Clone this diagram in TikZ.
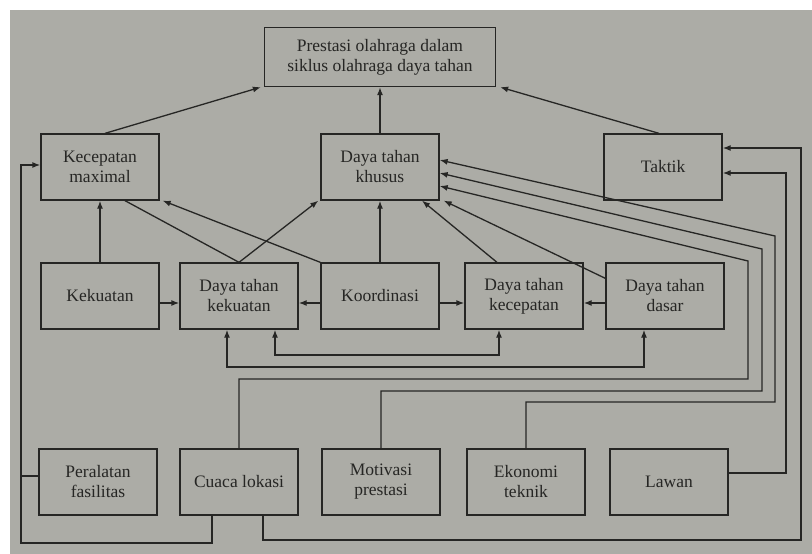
\documentclass[tikz,border=0pt]{standalone}
\usepackage{fontspec}
\setmainfont{Liberation Serif}
\usetikzlibrary{arrows.meta,positioning}
\definecolor{paper}{RGB}{172,172,166}
\definecolor{ink}{RGB}{38,38,36}

\begin{document}
\begin{tikzpicture}[x=1pt,y=-1pt,>=Latex,
factor box/.style={draw=ink,line width=1.3pt,minimum width=118pt,minimum height=66pt,inner sep=2pt,align=center,text=ink,font=\fontsize{17.5}{20}\selectfont},
flow/.style={-{Latex[length=8pt,width=6pt]},draw=ink,line width=1.3pt},
both flow/.style={{Latex[length=8pt,width=6pt]}-{Latex[length=8pt,width=6pt]},draw=ink,line width=1.3pt},
link/.style={draw=ink,line width=1.3pt}]
\useasboundingbox (0,0) rectangle (812,554);
\fill[white] (0,0) rectangle (812,554);
\fill[paper] (10,10) rectangle (812,554);
% goal
\node[factor box,minimum width=231pt,minimum height=59pt] (pres) at (380,57) {Prestasi olahraga dalam\\siklus olahraga daya tahan};
% upper row
\node[factor box] (kmax) at (100,167) {Kecepatan\\maximal};
\node[factor box] (khusus) at (380,167) {Daya tahan\\khusus};
\node[factor box] (taktik) at (663,167) {Taktik};
% middle row
\node[factor box] (kekuatan) at (100,296) {Kekuatan};
\node[factor box] (dtk) at (239,296) {Daya tahan\\kekuatan};
\node[factor box] (koord) at (380,296) {Koordinasi};
\node[factor box] (dtkc) at (524,296) {Daya tahan\\kecepatan};
\node[factor box] (dtd) at (665,296) {Daya tahan\\dasar};
% lower row
\node[factor box] (peralatan) at (98,482) {Peralatan\\fasilitas};
\node[factor box] (cuaca) at (239,482) {Cuaca lokasi};
\node[factor box] (motivasi) at (381,482) {Motivasi\\prestasi};
\node[factor box] (ekonomi) at (526,482) {Ekonomi\\teknik};
\node[factor box] (lawan) at (669,482) {Lawan};
% into the goal
\draw[flow] ([xshift=5pt]kmax.north) -- ([xshift=-3pt]pres.south west);
\draw[flow] (khusus) -- (pres);
\draw[flow] ([xshift=-4pt]taktik.north) -- ([xshift=4pt]pres.south east);
% middle row
\draw[flow] (kekuatan) -- (kmax);
\draw[flow] ([yshift=-7pt]kekuatan.east) -- ([yshift=-7pt]dtk.west);
\draw[flow] ([yshift=-7pt]koord.west) -- ([yshift=-7pt]dtk.east);
\draw[flow] ([yshift=-7pt]koord.east) -- ([yshift=-7pt]dtkc.west);
\draw[flow] ([yshift=-7pt]dtd.west) -- ([yshift=-7pt]dtkc.east);
\draw[flow] (koord) -- (khusus);
\draw[flow] (dtk.north) -- ([xshift=-2pt]khusus.south west);
\draw[link] ([xshift=25pt]kmax.south) -- (dtk.north);
\draw[flow] (koord.north west) -- ([xshift=3pt]kmax.south east);
\draw[flow] ([xshift=-27pt]dtkc.north) -- ([xshift=42pt]khusus.south);
\draw[flow] ([yshift=-16pt]dtd.north west) -- ([xshift=4pt]khusus.south east);
\draw[both flow] ([xshift=36pt]dtk.south) -- (275,355) -- (499,355) -- ([xshift=-25pt]dtkc.south);
\draw[both flow] ([xshift=-12pt]dtk.south) -- (227,367) -- (644,367) -- ([xshift=-21pt]dtd.south);
% lower row, routed
\draw[flow] (cuaca.north) |- (748,379) -- (748,261) -- ([yshift=-19pt]khusus.east);
\draw[flow] (motivasi.north) |- (762,391) -- (762,249) -- ([yshift=-6pt]khusus.east);
\draw[flow] (ekonomi.north) |- (775,402) -- (775,236) -- ([yshift=7pt]khusus.east);
\draw[flow] ([yshift=9pt]lawan.east) -| (786,173) -- ([yshift=-6pt]taktik.east);
\draw[flow] ([xshift=24pt]cuaca.south) |- (801,540) -- (801,148) -- ([yshift=19pt]taktik.east);
\draw[flow] ([xshift=-27pt]cuaca.south) |- (21,543) -- (21,165) -- ([yshift=2pt]kmax.west);
\draw[link] ([yshift=6pt]peralatan.west) -- (21,476);
\end{tikzpicture}
\end{document}
